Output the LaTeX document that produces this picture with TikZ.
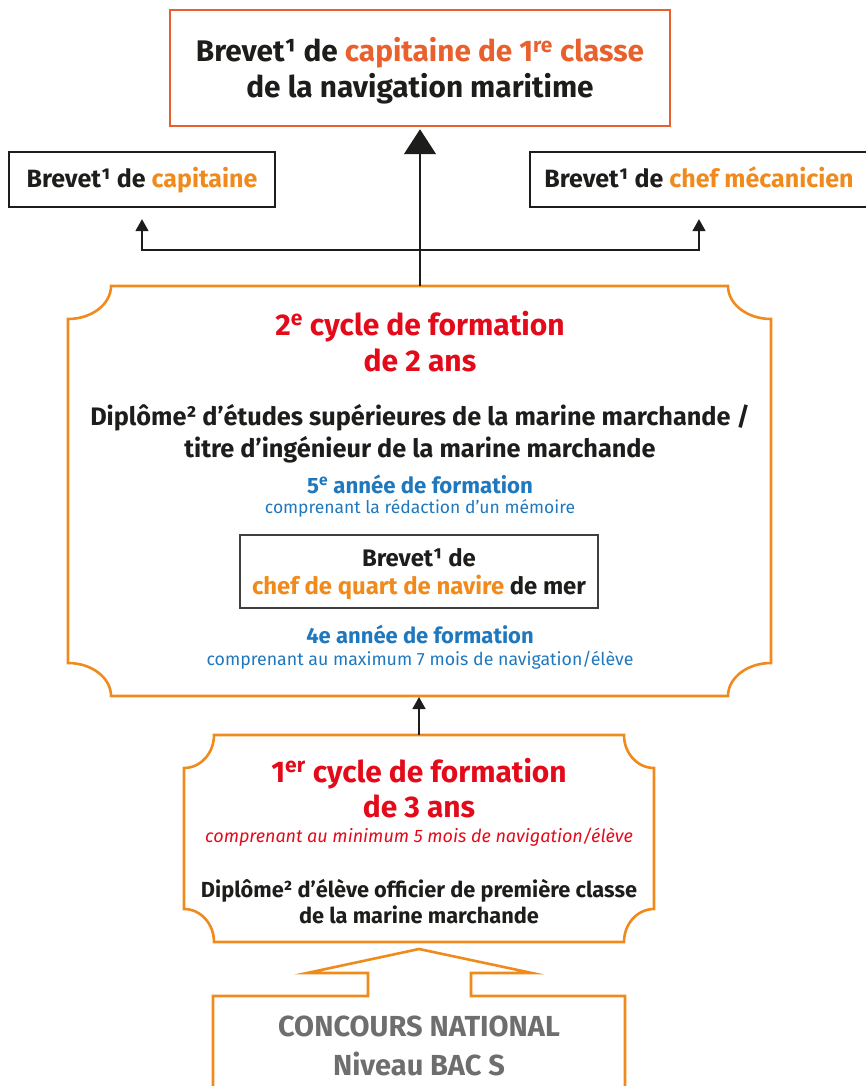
\documentclass[tikz,border=0pt]{standalone}
\usepackage{fontspec}
\setmainfont{Fira Sans}
\usetikzlibrary{arrows.meta}
\definecolor{oranger}{HTML}{E9602F}
\definecolor{orng}{HTML}{F18A1C}
\definecolor{rd}{HTML}{E30A1A}
\definecolor{bl}{HTML}{1F78BE}
\definecolor{gr}{HTML}{6E6E6E}
\definecolor{ink}{HTML}{1D1D1B}
\newcommand{\fs}[1]{\fontsize{#1}{1.2\dimexpr#1pt\relax}\selectfont}
\tikzset{
  blackbox/.style={draw=ink, line width=2.3pt, inner sep=0pt},
  frameline/.style={draw=orng, line width=2.6pt, line join=miter},
  ln/.style={anchor=base, inner sep=0pt, text=ink},
  conn/.style={draw=ink, line width=1.6pt},
  bigtip/.style={-{Triangle[width=32pt,length=25pt]}},
  smalltip/.style={-{Triangle[width=13pt,length=12pt]}},
}
\begin{document}
\begin{tikzpicture}[x=1pt,y=-1pt]
\useasboundingbox (0,0) rectangle (866,1086);

% top box
\node[draw=oranger, line width=2.5pt, minimum width=500pt, minimum height=116pt, inner sep=0pt] (top) at (420,68) {};
\node[ln, font=\bfseries\fs{29.8}] (t1) at (420,62) {Brevet¹ de \textcolor{oranger}{capitaine de 1\textsuperscript{re} classe}};
\node[ln, font=\bfseries\fs{29.8}] (t2) at (420,98) {de la navigation maritime};

% side boxes
\node[blackbox, minimum width=266pt, minimum height=55pt] (cap) at (142,179.5) {};
\node[ln, font=\bfseries\fs{25}] (capt) at (142,188) {Brevet¹ de \textcolor{orng}{capitaine}};
\node[blackbox, minimum width=338pt, minimum height=55pt] (chef) at (699,179.5) {};
\node[ln, font=\bfseries\fs{25}] (cheft) at (699,188) {Brevet¹ de \textcolor{orng}{chef mécanicien}};

% frame 2
\draw[frameline] (111,286) -- (728,286)
  arc[start angle=180, end angle=270, x radius=43pt, y radius=33pt]
  -- (771,663)
  arc[start angle=90, end angle=180, x radius=43pt, y radius=33pt]
  -- (111,696)
  arc[start angle=0, end angle=90, x radius=43pt, y radius=33pt]
  -- (68,319)
  arc[start angle=270, end angle=360, x radius=43pt, y radius=33pt]
  -- cycle;
\coordinate (f2top) at (420,286);
\coordinate (f2bot) at (419,696);
\coordinate (j) at (420,250);

\node[ln, text=rd, font=\bfseries\fs{30}] (c2a) at (420,335) {2\textsuperscript{e} cycle de formation};
\node[ln, text=rd, font=\bfseries\fs{30}] (c2b) at (420,371) {de 2 ans};
\node[ln, font=\bfseries\fs{25.3}] (d2a) at (420,425) {Diplôme² d’études supérieures de la marine marchande /};
\node[ln, font=\bfseries\fs{25.3}] (d2b) at (420,457) {titre d’ingénieur de la marine marchande};
\node[ln, text=bl, font=\bfseries\fs{22.2}] (a5) at (420,493) {5\textsuperscript{e} année de formation};
\node[ln, text=bl, font=\fs{17.5}] (a5b) at (420,513) {comprenant la rédaction d’un mémoire};
\node[draw=ink!85, line width=1.3pt, minimum width=358pt, minimum height=73pt, inner sep=0pt] (quart) at (419,571.5) {};
\node[ln, font=\bfseries\fs{23.9}] (q1) at (419,566) {Brevet¹ de};
\node[ln, font=\bfseries\fs{23.9}] (q2) at (419,594) {\textcolor{orng}{chef de quart de navire} de mer};
\node[ln, text=bl, font=\bfseries\fs{22}] (a4) at (420,643) {4e année de formation};
\node[ln, text=bl, font=\fs{17.75}] (a4b) at (420,665) {comprenant au maximum 7 mois de navigation/élève};

% frame 1
\draw[frameline] (214,735) -- (624,735)
  arc[start angle=180, end angle=270, x radius=30pt, y radius=33pt]
  -- (654,909)
  arc[start angle=90, end angle=180, x radius=30pt, y radius=33pt]
  -- (214,942)
  arc[start angle=0, end angle=90, x radius=30pt, y radius=33pt]
  -- (184,768)
  arc[start angle=270, end angle=360, x radius=30pt, y radius=33pt]
  -- cycle;
\coordinate (f1top) at (419,735);
\node[ln, text=rd, font=\bfseries\fs{29.9}] (c1a) at (419,782) {1\textsuperscript{er} cycle de formation};
\node[ln, text=rd, font=\bfseries\fs{29.9}] (c1b) at (419,817) {de 3 ans};
\node[ln, text=rd, font=\itshape\fs{18}] (c1c) at (419,842) {comprenant au minimum 5 mois de navigation/élève};
\node[ln, font=\bfseries\fs{21.8}] (d1a) at (419,897) {Diplôme² d’élève officier de première classe};
\node[ln, font=\bfseries\fs{21.8}] (d1b) at (419,923) {de la marine marchande};

% bottom shape
\draw[frameline] (213,1092) -- (213,996) -- (368,996) -- (368,973) -- (307,973) -- (419,949)
  -- (532,973) -- (471,973) -- (471,996) -- (625,996) -- (625,1092);
\node[ln, text=gr, font=\bfseries\fs{29}] (conc1) at (419,1036) {CONCOURS NATIONAL};
\node[ln, text=gr, font=\bfseries\fs{29}] (conc2) at (419,1075) {Niveau BAC S};

% connectors
\draw[conn, bigtip, shorten >=2pt] (f2top) -- (top.south);
\draw[conn, smalltip, shorten >=11pt] (j) -| (cap.south);
\draw[conn, smalltip, shorten >=11pt] (j) -| (chef.south);
\draw[conn, smalltip, shorten >=1pt] (f1top) -- (f2bot);
\end{tikzpicture}
\end{document}
